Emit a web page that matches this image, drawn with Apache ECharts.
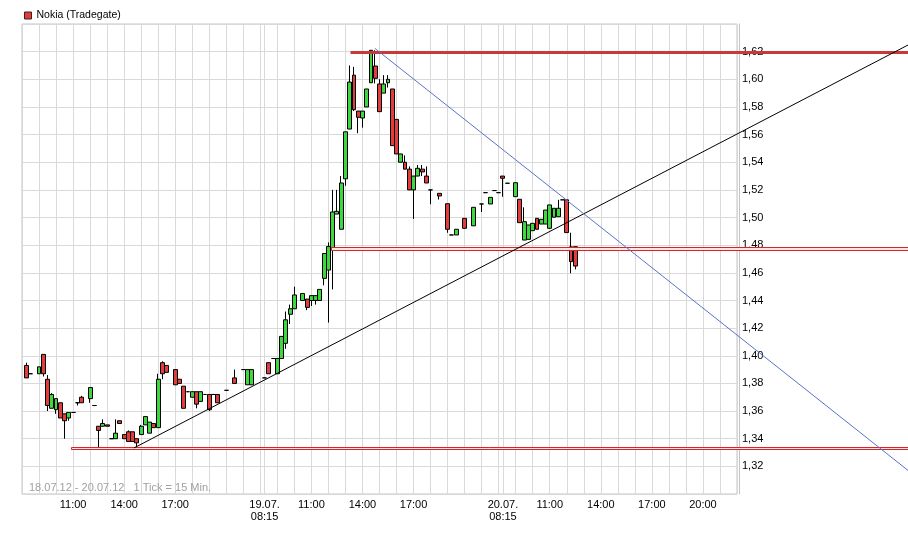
<!DOCTYPE html>
<html><head><meta charset="utf-8">
<script src="https://cdn.jsdelivr.net/npm/echarts@6/dist/echarts.min.js"></script>
<style>html,body{margin:0;padding:0;background:#fff}#c{width:908px;height:537px}</style>
</head><body><div id="c"></div>
<script>
// ---- axis definition ----
const days = ['18.07.', '19.07.', '20.07.'];
const sessionStart = 8 * 60, sessionEnd = 22 * 60, step = 15;
const tickLabels = ['18.07. 11:00', '18.07. 14:00', '18.07. 17:00',
  '19.07. 08:15', '19.07. 11:00', '19.07. 14:00', '19.07. 17:00',
  '20.07. 08:15', '20.07. 11:00', '20.07. 14:00', '20.07. 17:00', '20.07. 20:00'];
const yTicks = { min: 1.30, max: 1.64, interval: 0.02 };

// ---- candle data (slot index on the 15-min axis) ----
const candleSlot = [1,2,4,5,6,7,8,9,10,11,12,13,14,16,17,18,19,20,21,22,23,24,25,26,27,28,29,30,31,32,33,34,36,37,38,39,40,41,42,43,44,45,46,48,50,52,53,54,
  57,58,59,60,61,62,63,64,66,67,68,69,70,71,72,73,74,75,76,77,78,79,80,81,82,83,84,85,86,87,88,89,90,91,92,93,94,95,96,98,100,101,102,104,106,108,109,110,111,112,
  113,114,116,117,118,119,120,121,122,123,124,125,126,127,128,129,130];
const candleOpen = [1.393,1.387,1.387,1.401,1.383,1.362,1.361,1.366,1.358,1.355,1.359,1.366,1.370,1.369,1.364,1.349,1.349,1.350,1.340,1.340,1.353,1.343,1.345,1.345,1.340,1.343,1.350,1.344,1.351,1.348,1.395,1.393,1.390,1.383,1.378,1.374,1.370,1.374,1.367,1.372,1.372,1.372,1.372,1.375,1.384,1.390,1.379,1.379,
  1.384,1.395,1.398,1.387,1.398,1.409,1.430,1.434,1.440,1.441,1.440,1.440,1.440,1.456,1.462,1.478,1.5025,1.4915,1.528,1.564,1.603,1.577,1.572,1.580,1.5975,1.6096,1.5966,1.590,1.5975,1.593,1.571,1.540,1.540,1.535,1.520,1.530,1.535,1.530,1.520,1.5175,1.510,1.4874,1.4874,1.4994,1.494,1.5098,1.518,1.5098,1.5195,1.518,
  1.530,1.5248,1.5151,1.5132,1.4837,1.4842,1.4905,1.4994,1.4953,1.4953,1.4922,1.5002,1.5006,1.5128,1.5128,1.4788,1.4789];
const candleClose = [1.384,1.387,1.392,1.387,1.364,1.372,1.369,1.355,1.353,1.359,1.359,1.366,1.366,1.377,1.364,1.346,1.351,1.349,1.340,1.344,1.351,1.340,1.338,1.338,1.337,1.349,1.356,1.352,1.348,1.383,1.387,1.388,1.379,1.380,1.362,1.374,1.374,1.365,1.374,1.372,1.361,1.372,1.366,1.375,1.380,1.390,1.390,1.390,
  1.384,1.387,1.398,1.398,1.414,1.426,1.434,1.444,1.445,1.435,1.4435,1.4435,1.448,1.474,1.479,1.504,1.5045,1.525,1.562,1.598,1.578,1.5725,1.577,1.593,1.621,1.6007,1.5766,1.5966,1.600,1.552,1.546,1.546,1.535,1.520,1.530,1.5356,1.533,1.525,1.520,1.5156,1.4915,1.4874,1.4915,1.4922,1.5074,1.5098,1.518,1.5146,1.5195,1.518,
  1.5284,1.5248,1.5252,1.4963,1.497,1.4946,1.4958,1.4915,1.4987,1.5054,1.5091,1.5067,1.5067,1.5128,1.4891,1.4681,1.4649];
const candleLow = [1.384,1.387,1.387,1.385,1.360,1.362,1.358,1.355,1.340,1.353,1.359,1.364,1.366,1.366,1.364,1.334,1.349,1.349,1.340,1.340,1.351,1.340,1.338,1.338,1.334,1.343,1.350,1.344,1.348,1.348,1.383,1.388,1.379,1.380,1.362,1.374,1.370,1.362,1.367,1.372,1.360,1.372,1.366,1.375,1.380,1.390,1.379,1.379,
  1.384,1.387,1.398,1.387,1.398,1.405,1.423,1.434,1.440,1.433,1.436,1.437,1.440,1.451,1.424,1.448,1.5025,1.4915,1.523,1.564,1.577,1.561,1.565,1.580,1.5975,1.597,1.5766,1.590,1.594,1.552,1.546,1.540,1.535,1.520,1.499,1.530,1.530,1.525,1.5096,1.513,1.489,1.4874,1.4874,1.4922,1.494,1.504,1.518,1.5098,1.5195,1.518,
  1.515,1.5248,1.5151,1.4963,1.4837,1.4842,1.4905,1.4915,1.4953,1.4953,1.4922,1.5002,1.5006,1.5128,1.4891,1.4597,1.4625];
const candleHigh = [1.395,1.387,1.392,1.401,1.386,1.373,1.369,1.366,1.358,1.359,1.359,1.366,1.371,1.377,1.364,1.349,1.354,1.350,1.340,1.354,1.353,1.343,1.346,1.345,1.340,1.350,1.356,1.352,1.351,1.387,1.396,1.393,1.390,1.383,1.378,1.374,1.374,1.374,1.374,1.372,1.372,1.372,1.372,1.375,1.390,1.390,1.390,1.390,
  1.384,1.395,1.398,1.398,1.414,1.432,1.437,1.450,1.445,1.441,1.4435,1.4435,1.448,1.474,1.482,1.520,1.520,1.530,1.562,1.610,1.609,1.577,1.577,1.593,1.621,1.621,1.600,1.603,1.603,1.593,1.571,1.546,1.545,1.537,1.530,1.538,1.538,1.537,1.520,1.5175,1.510,1.4874,1.4915,1.4994,1.5074,1.5098,1.518,1.5146,1.5195,1.518,
  1.530,1.5248,1.5252,1.5132,1.5074,1.4946,1.4958,1.4994,1.4987,1.5054,1.5091,1.5067,1.5128,1.5128,1.5128,1.489,1.4789];

// ---- drawn annotations (data space: [slot, price]) ----
const trendUp = [[26.3, 1.3333], [168, 1.5604]];
const trendDown = [[82.9, 1.6224], [168, 1.4150]];
const bandTop = { from: 77, prices: [1.6205, 1.6188] };
const bandMid = { from: 72.5, prices: [1.4789, 1.4762] };
const bandLow = { from: 11.4, prices: [1.3338, 1.3323] };

// ---- build ----
const pad = n => (n < 10 ? '0' : '') + n;
const categories = [];
days.forEach((d, di) => {
  const last = di === days.length - 1;
  for (let m = sessionStart; m < sessionEnd || (last && m === sessionEnd); m += step) {
    categories.push(d + ' ' + pad(Math.floor(m / 60)) + ':' + pad(m % 60));
  }
});
const candles = candleSlot.map((s, i) => [s, candleOpen[i], candleClose[i], candleLow[i], candleHigh[i]]);

const FONT = 'Liberation Sans, Arial, sans-serif';
const chart = echarts.init(document.getElementById('c'), null, { renderer: 'canvas' });
chart.setOption({
  animation: false,
  backgroundColor: '#fff',
  title: {
    text: '18.07.12 - 20.07.12   1 Tick = 15 Min.',
    left: 29, top: 482, padding: 0,
    textStyle: { fontSize: 11, fontWeight: 'normal', color: '#a0a0a0', fontFamily: FONT }
  },
  legend: {
    left: 24, top: 10, padding: 0, itemWidth: 7, itemHeight: 7, selectedMode: false,
    textStyle: { fontSize: 10.5, color: '#000', fontFamily: FONT },
    data: [{ name: 'Nokia (Tradegate)', icon: 'rect', itemStyle: { color: '#e03c3c', borderColor: '#402020', borderWidth: 1 } }]
  },
  grid: { left: 22, right: 171, top: 24, bottom: 43, show: true, borderColor: '#c4c4c4', borderWidth: 1, backgroundColor: '#fff' },
  xAxis: {
    type: 'category', data: categories, boundaryGap: false,
    axisLine: { show: false }, axisTick: { show: false },
    axisLabel: {
      interval: (i, v) => tickLabels.indexOf(v) >= 0,
      formatter: v => { const p = v.split(' '); return p[1] === '08:15' ? p[0] + '\n' + p[1] : p[1]; },
      fontSize: 11, lineHeight: 12, color: '#000', margin: 5, fontFamily: FONT
    },
    splitLine: {
      show: true,
      interval: (i, v) => v.slice(-2) === '00' || tickLabels.indexOf(v) >= 0,
      lineStyle: { color: '#d9d9d9', width: 1 }
    }
  },
  yAxis: {
    type: 'value', position: 'right', min: yTicks.min, max: yTicks.max, interval: yTicks.interval,
    offset: 2,
    axisLine: { show: true, lineStyle: { color: '#c4c4c4' } }, axisTick: { show: false },
    axisLabel: {
      showMinLabel: false, showMaxLabel: false, margin: 3, fontSize: 11, color: '#000', fontFamily: FONT,
      formatter: v => v.toFixed(2).replace('.', ',')
    },
    splitLine: { show: true, lineStyle: { color: '#d9d9d9', width: 1 } }
  },
  series: [{
    name: 'Nokia (Tradegate)', type: 'candlestick', data: candles,
    encode: { x: 0, y: [1, 2, 3, 4] },
    barWidth: 4.4,
    itemStyle: { color: '#3dd83d', color0: '#e23c3c', borderColor: '#000', borderColor0: '#000', borderWidth: 1 },
    silent: true
  }]
});

function toPx(slot, price) {
  const a = chart.convertToPixel({ seriesIndex: 0 }, [0, price]);
  const b = chart.convertToPixel({ seriesIndex: 0 }, [categories.length - 1, price]);
  return [a[0] + (b[0] - a[0]) * slot / (categories.length - 1), a[1]];
}
const W = chart.getWidth();
function trendLine(pts, color) {
  const p1 = toPx(pts[0][0], pts[0][1]);
  const p2 = toPx(pts[1][0], pts[1][1]);
  const k = (p2[1] - p1[1]) / (p2[0] - p1[0]);
  return [{ type: 'line', z: 100, silent: true,
    shape: { x1: p1[0], y1: p1[1], x2: W, y2: p1[1] + k * (W - p1[0]) },
    style: { stroke: color, lineWidth: 1 } }];
}
function band(b, filled) {
  const p1 = toPx(b.from, b.prices[0]);
  const p2 = toPx(b.from, b.prices[1]);
  const y1 = Math.round(p1[1]) + 0.5, y2 = Math.round(p2[1]) + 0.5, x = Math.round(p1[0]) + 0.5;
  const col = filled ? '#c83a3a' : '#d42626';
  const els = [];
  if (filled) {
    els.push({ type: 'rect', z: 100, silent: true,
      shape: { x: x, y: Math.min(y1, y2) - 0.5, width: W - x, height: Math.abs(y2 - y1) + 1 },
      style: { fill: col } });
  } else {
    els.push({ type: 'rect', z: 99, silent: true,
      shape: { x: x, y: Math.min(y1, y2), width: W - x, height: Math.abs(y2 - y1) },
      style: { fill: '#f7e4e4' } });
    [y1, y2].forEach(y => els.push({ type: 'line', z: 100, silent: true,
      shape: { x1: x, y1: y, x2: W, y2: y }, style: { stroke: col, lineWidth: 1 } }));
    els.push({ type: 'line', z: 100, silent: true,
      shape: { x1: x, y1: y1, x2: x, y2: y2 }, style: { stroke: col, lineWidth: 1 } });
  }
  return els;
}
chart.setOption({
  graphic: [].concat(
    band(bandLow, false), band(bandMid, false), band(bandTop, true),
    trendLine(trendUp, '#000000'), trendLine(trendDown, '#5a72c8')
  )
});
</script></body></html>
